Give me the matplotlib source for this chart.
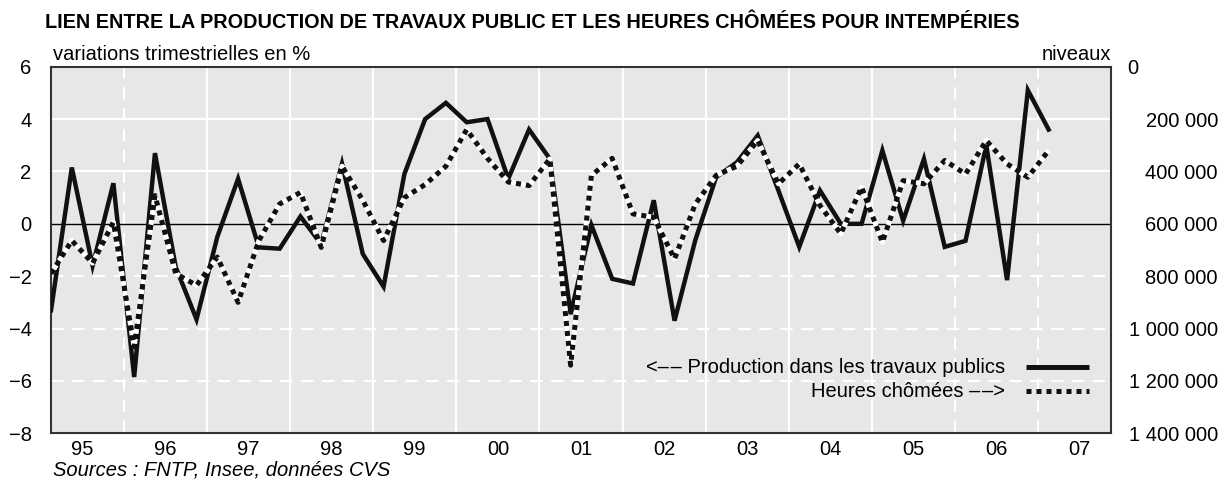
#!/usr/bin/env python3
# -*- coding: utf-8 -*-
"""Production des travaux publics et heures chômées pour intempéries."""
import sys
import numpy as np
import matplotlib
matplotlib.use("Agg")
import matplotlib.pyplot as plt

# first quarter of the series: 1995 Q1, last: 2007 Q1
start_year = 1995
# variations trimestrielles en % (axe de gauche)
production = [-3.3, 2.15, -1.6, 1.55, -5.85, 2.7, -1.65, -3.65, -0.5, 1.72,
              -0.9, -0.95, 0.28, -0.78, 2.3, -1.15, -2.4, 1.9, 4.0, 4.62,
              3.88, 4.0, 1.72, 3.6, 2.48, -3.45, -0.05, -2.1, -2.28, 0.9,
              -3.7, -0.62, 1.78, 2.35, 3.37, 1.27, -0.88, 1.27, 0.0, 0.0,
              2.8, 0.12, 2.48, -0.88, -0.65, 3.0, -2.15, 5.1, 3.6]
# heures chômées, niveaux (axe de droite, inversé)
heures = [790000, 664000, 750000, 594000, 1070000, 492000, 790000, 835000,
          727000, 900000, 664000, 524000, 480000, 690000, 380000, 510000,
          664000, 500000, 450000, 380000, 240000, 350000, 440000, 454000,
          352000, 1140000, 415000, 350000, 562000, 575000, 734000, 524000,
          415000, 380000, 282000, 447000, 371000, 530000, 638000, 460000,
          670000, 435000, 447000, 358000, 410000, 282000, 371000, 422000,
          320000]
year_labels = ["95", "96", "97", "98", "99", "00", "01", "02", "03", "04",
               "05", "06", "07"]
left_ticks = [-8, -6, -4, -2, 0, 2, 4, 6]
right_ticks = [0, 200000, 400000, 600000, 800000, 1000000, 1200000, 1400000]

FS = 14.5


def fmt(v):
    if v == 0:
        return "0" + "\u2007" * 7
    return "{:,}".format(v).replace(",", " ")


def main():
    plt.rcParams["font.family"] = ["Liberation Sans", "DejaVu Sans"]
    fig = plt.figure(figsize=(12.21, 4.8), dpi=100)
    ax = fig.add_axes([0.0418, 0.0973, 0.8681, 0.7637])
    ax.set_facecolor("#e6e7e9")

    x = start_year + np.arange(len(production)) / 4 + 0.125
    years = np.arange(start_year, start_year + len(year_labels))

    # grid
    for v in left_ticks[1:-1]:
        if v > 0:
            ax.axhline(v, color="white", lw=1.5, zorder=1)
        elif v < 0:
            ax.axhline(v, color="white", lw=1.5, ls=(0, (6, 4)), zorder=1)
    for yr in years[1:]:
        dashed = yr in (1996, 2006, 2007)
        ax.axvline(yr, color="white", lw=1.5,
                   ls=(0, (6, 4)) if dashed else "-", zorder=1)
    ax.axhline(0, color="black", lw=1.0, zorder=2)

    ax.plot(x, production, color="#111111", lw=3.2, zorder=3,
            solid_joinstyle="miter")
    ax.set_xlim(1995.125, 2007.875)
    ax.set_ylim(-8, 6)
    ax.set_yticks(left_ticks)
    ax.set_yticklabels([str(t).replace("-", "\u2212") for t in left_ticks])
    ax.set_xticks(years + 0.5)
    ax.set_xticklabels(year_labels)
    ax.tick_params(axis="both", length=0, labelsize=FS)
    ax.tick_params(axis="x", pad=5)
    ax.tick_params(axis="y", pad=14)
    for s in ax.spines.values():
        s.set_color("#333333")
        s.set_linewidth(1.5)

    ax2 = ax.twinx()
    ax2.plot(x, heures, color="#111111", lw=3.6, ls=(0, (1, 1)),
             gapcolor="white", dash_capstyle="butt")
    ax2.set_ylim(1400000, 0)
    ax2.set_yticks(right_ticks)
    ax2.set_yticklabels([fmt(t) for t in right_ticks])
    ax2.tick_params(axis="y", length=0, labelsize=FS, pad=77)
    for lab in ax2.get_yticklabels():
        lab.set_horizontalalignment("right")
    for s in ax2.spines.values():
        s.set_visible(False)

    # legend
    ax.text(0.9, 0.18, "<\u2013\u200a\u2013 Production dans les travaux publics",
            transform=ax.transAxes, ha="right", va="center", fontsize=FS)
    ax.text(0.9, 0.115, "Heures chômées \u2013\u200a\u2013>",
            transform=ax.transAxes, ha="right", va="center", fontsize=FS)
    ax.plot([0.92, 0.979], [0.18, 0.18], transform=ax.transAxes,
            color="#111111", lw=3.6, solid_capstyle="butt")
    ax.plot([0.92, 0.979], [0.115, 0.115], transform=ax.transAxes,
            color="#111111", lw=3.6, ls=(0, (1, 1)), dash_capstyle="butt")

    fig.text(45 / 1221, 1 - 22 / 480,
             "LIEN ENTRE LA PRODUCTION DE TRAVAUX PUBLIC ET LES HEURES "
             "CHÔMÉES POUR INTEMPÉRIES",
             fontsize=14.3, fontweight="bold", ha="left", va="center")
    ax.text(0.002, 1.008, "variations trimestrielles en %",
            transform=ax.transAxes, ha="left", va="bottom", fontsize=FS)
    ax.text(1.0, 1.008, "niveaux", transform=ax.transAxes,
            ha="right", va="bottom", fontsize=FS)
    fig.text(53 / 1221, 1 - 470 / 480, "Sources : FNTP, Insee, données CVS",
             fontsize=FS, style="italic", ha="left", va="center")

    fig.savefig("out.png", dpi=100)
    return 0


if __name__ == "__main__":
    sys.exit(main())
